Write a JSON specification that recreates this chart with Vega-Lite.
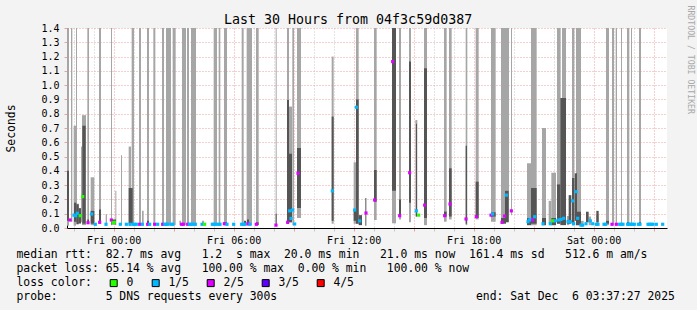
{
  "$schema": "https://vega.github.io/schema/vega-lite/v6.json",
  "width": 600,
  "height": 200,
  "autosize": {"type": "none"},
  "padding": {"left": 67, "top": 28, "right": 30, "bottom": 82},
  "background": "#f3f3f3",
  "title": {
    "text": "Last 30 Hours from 04f3c59d0387",
    "anchor": "start",
    "frame": "group",
    "dx": 157,
    "dy": 36,
    "baseline": "alphabetic",
    "offset": 4,
    "font": "DejaVu Sans Mono",
    "fontSize": 13.3,
    "fontWeight": "normal",
    "color": "#000000"
  },
  "datasets": {
    "light": [
      {"t":"2025-12-04T21:40","t2":"2025-12-04T21:46","lo":0.016,"hi":1.4},
      {"t":"2025-12-04T21:52","t2":"2025-12-04T21:56","lo":0.044,"hi":1.4},
      {"t":"2025-12-04T22:00","t2":"2025-12-04T22:07","lo":0.016,"hi":0.716},
      {"t":"2025-12-04T22:07","t2":"2025-12-04T22:10","lo":0.04,"hi":1.4},
      {"t":"2025-12-04T22:10","t2":"2025-12-04T22:16","lo":0.03,"hi":0.17},
      {"t":"2025-12-04T22:16","t2":"2025-12-04T22:22","lo":0.03,"hi":0.14},
      {"t":"2025-12-04T22:22","t2":"2025-12-04T22:25","lo":0.04,"hi":0.57},
      {"t":"2025-12-04T22:25","t2":"2025-12-04T22:37","lo":0.02,"hi":0.79},
      {"t":"2025-12-04T22:41","t2":"2025-12-04T22:46","lo":0.03,"hi":1.4},
      {"t":"2025-12-04T22:51","t2":"2025-12-04T23:02","lo":0.02,"hi":0.355},
      {"t":"2025-12-04T23:16","t2":"2025-12-04T23:22","lo":0.03,"hi":1.4},
      {"t":"2025-12-04T23:36","t2":"2025-12-04T23:40","lo":0.02,"hi":0.096},
      {"t":"2025-12-04T23:52","t2":"2025-12-04T23:55","lo":0.02,"hi":1.4},
      {"t":"2025-12-05T00:05","t2":"2025-12-05T00:08","lo":0.02,"hi":0.26},
      {"t":"2025-12-05T00:22","t2":"2025-12-05T00:25","lo":0.02,"hi":0.51},
      {"t":"2025-12-05T00:45","t2":"2025-12-05T00:52","lo":0.016,"hi":0.57},
      {"t":"2025-12-05T00:54","t2":"2025-12-05T01:01","lo":0.02,"hi":1.4},
      {"t":"2025-12-05T01:16","t2":"2025-12-05T01:22","lo":0.02,"hi":1.4},
      {"t":"2025-12-05T01:25","t2":"2025-12-05T01:30","lo":0.02,"hi":0.12},
      {"t":"2025-12-05T01:40","t2":"2025-12-05T01:46","lo":0.02,"hi":1.4},
      {"t":"2025-12-05T01:59","t2":"2025-12-05T02:05","lo":0.02,"hi":1.4},
      {"t":"2025-12-05T02:25","t2":"2025-12-05T02:31","lo":0.02,"hi":1.4},
      {"t":"2025-12-05T02:37","t2":"2025-12-05T02:52","lo":0.02,"hi":1.4},
      {"t":"2025-12-05T02:57","t2":"2025-12-05T03:06","lo":0.02,"hi":1.4},
      {"t":"2025-12-05T03:17","t2":"2025-12-05T03:22","lo":0.02,"hi":0.05},
      {"t":"2025-12-05T03:25","t2":"2025-12-05T03:37","lo":0.02,"hi":1.4},
      {"t":"2025-12-05T03:40","t2":"2025-12-05T03:46","lo":0.02,"hi":1.4},
      {"t":"2025-12-05T03:52","t2":"2025-12-05T04:07","lo":0.02,"hi":1.4},
      {"t":"2025-12-05T04:25","t2":"2025-12-05T04:31","lo":0.02,"hi":0.05},
      {"t":"2025-12-05T05:00","t2":"2025-12-05T05:10","lo":0.02,"hi":1.4},
      {"t":"2025-12-05T05:15","t2":"2025-12-05T05:20","lo":0.02,"hi":1.4},
      {"t":"2025-12-05T05:31","t2":"2025-12-05T05:40","lo":0.02,"hi":1.4},
      {"t":"2025-12-05T06:24","t2":"2025-12-05T06:30","lo":0.02,"hi":1.4},
      {"t":"2025-12-05T06:39","t2":"2025-12-05T06:55","lo":0.02,"hi":1.4},
      {"t":"2025-12-05T07:07","t2":"2025-12-05T07:15","lo":0.02,"hi":1.4},
      {"t":"2025-12-05T08:06","t2":"2025-12-05T08:09","lo":0.02,"hi":1.4},
      {"t":"2025-12-05T08:40","t2":"2025-12-05T08:46","lo":0.03,"hi":1.4},
      {"t":"2025-12-05T08:46","t2":"2025-12-05T08:55","lo":0.04,"hi":0.85},
      {"t":"2025-12-05T08:56","t2":"2025-12-05T09:01","lo":0.02,"hi":1.4},
      {"t":"2025-12-05T09:10","t2":"2025-12-05T09:22","lo":0.07,"hi":1.4},
      {"t":"2025-12-05T10:54","t2":"2025-12-05T11:00","lo":0.03,"hi":1.2},
      {"t":"2025-12-05T12:00","t2":"2025-12-05T12:07","lo":0.03,"hi":0.46},
      {"t":"2025-12-05T12:07","t2":"2025-12-05T12:15","lo":0.03,"hi":1.4},
      {"t":"2025-12-05T13:01","t2":"2025-12-05T13:09","lo":0.056,"hi":1.4},
      {"t":"2025-12-05T13:55","t2":"2025-12-05T14:07","lo":0.033,"hi":0.26},
      {"t":"2025-12-05T14:16","t2":"2025-12-05T14:22","lo":0.06,"hi":1.4},
      {"t":"2025-12-05T14:46","t2":"2025-12-05T14:52","lo":0.04,"hi":1.4},
      {"t":"2025-12-05T15:05","t2":"2025-12-05T15:11","lo":0.08,"hi":0.756},
      {"t":"2025-12-05T15:31","t2":"2025-12-05T15:40","lo":0.02,"hi":1.4},
      {"t":"2025-12-05T16:31","t2":"2025-12-05T16:39","lo":0.044,"hi":1.4},
      {"t":"2025-12-05T16:46","t2":"2025-12-05T16:54","lo":0.06,"hi":1.4},
      {"t":"2025-12-05T17:36","t2":"2025-12-05T17:41","lo":0.02,"hi":1.4},
      {"t":"2025-12-05T18:06","t2":"2025-12-05T18:15","lo":0.06,"hi":1.4},
      {"t":"2025-12-05T18:52","t2":"2025-12-05T19:06","lo":0.044,"hi":1.4},
      {"t":"2025-12-05T19:22","t2":"2025-12-05T19:46","lo":0.044,"hi":1.4},
      {"t":"2025-12-05T19:52","t2":"2025-12-05T19:55","lo":0.09,"hi":1.4},
      {"t":"2025-12-05T20:40","t2":"2025-12-05T20:52","lo":0.02,"hi":0.453},
      {"t":"2025-12-05T20:52","t2":"2025-12-05T21:09","lo":0.02,"hi":1.4},
      {"t":"2025-12-05T21:25","t2":"2025-12-05T21:37","lo":0.02,"hi":0.7},
      {"t":"2025-12-05T21:45","t2":"2025-12-05T21:53","lo":0.03,"hi":0.19},
      {"t":"2025-12-05T21:53","t2":"2025-12-05T22:07","lo":0.02,"hi":0.387},
      {"t":"2025-12-05T22:10","t2":"2025-12-05T22:21","lo":0.03,"hi":1.4},
      {"t":"2025-12-05T22:25","t2":"2025-12-05T22:37","lo":0.03,"hi":1.4},
      {"t":"2025-12-05T22:40","t2":"2025-12-05T22:47","lo":0.02,"hi":0.084},
      {"t":"2025-12-05T22:55","t2":"2025-12-05T23:02","lo":0.02,"hi":1.4},
      {"t":"2025-12-05T23:07","t2":"2025-12-05T23:22","lo":0.02,"hi":1.4},
      {"t":"2025-12-05T23:22","t2":"2025-12-05T23:30","lo":0.02,"hi":0.05},
      {"t":"2025-12-05T23:45","t2":"2025-12-05T23:52","lo":0.02,"hi":0.08},
      {"t":"2025-12-06T00:08","t2":"2025-12-06T00:15","lo":0.03,"hi":0.09},
      {"t":"2025-12-06T00:37","t2":"2025-12-06T00:46","lo":0.02,"hi":1.4},
      {"t":"2025-12-06T00:55","t2":"2025-12-06T01:01","lo":0.02,"hi":1.4},
      {"t":"2025-12-06T01:06","t2":"2025-12-06T01:10","lo":0.02,"hi":1.4},
      {"t":"2025-12-06T01:22","t2":"2025-12-06T01:25","lo":0.02,"hi":1.4},
      {"t":"2025-12-06T01:40","t2":"2025-12-06T01:47","lo":0.02,"hi":1.4},
      {"t":"2025-12-06T01:52","t2":"2025-12-06T01:55","lo":0.02,"hi":1.4},
      {"t":"2025-12-06T02:16","t2":"2025-12-06T02:22","lo":0.02,"hi":1.4}
    ],
    "dark": [
      {"t":"2025-12-04T21:40","t2":"2025-12-04T21:46","lo":0.05,"hi":0.4},
      {"t":"2025-12-04T22:01","t2":"2025-12-04T22:08","lo":0.044,"hi":0.177},
      {"t":"2025-12-04T22:08","t2":"2025-12-04T22:15","lo":0.026,"hi":0.166},
      {"t":"2025-12-04T22:15","t2":"2025-12-04T22:22","lo":0.033,"hi":0.138},
      {"t":"2025-12-04T22:26","t2":"2025-12-04T22:36","lo":0.03,"hi":0.716},
      {"t":"2025-12-04T22:41","t2":"2025-12-04T22:46","lo":0.03,"hi":0.06},
      {"t":"2025-12-04T22:51","t2":"2025-12-04T23:02","lo":0.03,"hi":0.12},
      {"t":"2025-12-04T23:16","t2":"2025-12-04T23:22","lo":0.033,"hi":0.13},
      {"t":"2025-12-04T23:52","t2":"2025-12-05T00:07","lo":0.025,"hi":0.06},
      {"t":"2025-12-05T00:45","t2":"2025-12-05T00:57","lo":0.03,"hi":0.28},
      {"t":"2025-12-05T01:40","t2":"2025-12-05T01:46","lo":0.02,"hi":0.05},
      {"t":"2025-12-05T05:31","t2":"2025-12-05T05:40","lo":0.02,"hi":0.04},
      {"t":"2025-12-05T06:31","t2":"2025-12-05T06:37","lo":0.02,"hi":0.05},
      {"t":"2025-12-05T06:40","t2":"2025-12-05T06:46","lo":0.02,"hi":0.06},
      {"t":"2025-12-05T07:07","t2":"2025-12-05T07:15","lo":0.02,"hi":0.04},
      {"t":"2025-12-05T08:06","t2":"2025-12-05T08:09","lo":0.02,"hi":0.1},
      {"t":"2025-12-05T08:40","t2":"2025-12-05T08:46","lo":0.03,"hi":0.896},
      {"t":"2025-12-05T08:46","t2":"2025-12-05T08:55","lo":0.04,"hi":0.52},
      {"t":"2025-12-05T09:10","t2":"2025-12-05T09:22","lo":0.14,"hi":0.56},
      {"t":"2025-12-05T10:54","t2":"2025-12-05T11:00","lo":0.05,"hi":0.78},
      {"t":"2025-12-05T12:00","t2":"2025-12-05T12:07","lo":0.05,"hi":0.126},
      {"t":"2025-12-05T12:07","t2":"2025-12-05T12:15","lo":0.03,"hi":0.9},
      {"t":"2025-12-05T12:15","t2":"2025-12-05T12:25","lo":0.02,"hi":0.09},
      {"t":"2025-12-05T12:35","t2":"2025-12-05T12:38","lo":0.016,"hi":0.21},
      {"t":"2025-12-05T13:01","t2":"2025-12-05T13:09","lo":0.184,"hi":0.406},
      {"t":"2025-12-05T13:55","t2":"2025-12-05T14:07","lo":0.26,"hi":1.4},
      {"t":"2025-12-05T14:16","t2":"2025-12-05T14:22","lo":0.09,"hi":0.2},
      {"t":"2025-12-05T14:46","t2":"2025-12-05T14:52","lo":0.177,"hi":1.165},
      {"t":"2025-12-05T15:07","t2":"2025-12-05T15:10","lo":0.08,"hi":0.73},
      {"t":"2025-12-05T15:31","t2":"2025-12-05T15:40","lo":0.07,"hi":1.118},
      {"t":"2025-12-05T16:31","t2":"2025-12-05T16:39","lo":0.08,"hi":0.115},
      {"t":"2025-12-05T16:46","t2":"2025-12-05T16:54","lo":0.08,"hi":0.418},
      {"t":"2025-12-05T17:36","t2":"2025-12-05T17:40","lo":0.03,"hi":0.576},
      {"t":"2025-12-05T18:06","t2":"2025-12-05T18:15","lo":0.07,"hi":0.324},
      {"t":"2025-12-05T18:52","t2":"2025-12-05T19:06","lo":0.08,"hi":0.11},
      {"t":"2025-12-05T19:22","t2":"2025-12-05T19:37","lo":0.03,"hi":0.07},
      {"t":"2025-12-05T19:34","t2":"2025-12-05T19:45","lo":0.04,"hi":0.26},
      {"t":"2025-12-05T20:40","t2":"2025-12-05T20:52","lo":0.02,"hi":0.07},
      {"t":"2025-12-05T20:52","t2":"2025-12-05T21:09","lo":0.03,"hi":0.28},
      {"t":"2025-12-05T21:25","t2":"2025-12-05T21:37","lo":0.02,"hi":0.07},
      {"t":"2025-12-05T21:53","t2":"2025-12-05T22:07","lo":0.02,"hi":0.07},
      {"t":"2025-12-05T22:10","t2":"2025-12-05T22:20","lo":0.03,"hi":0.305},
      {"t":"2025-12-05T22:20","t2":"2025-12-05T22:37","lo":0.02,"hi":0.91},
      {"t":"2025-12-05T22:40","t2":"2025-12-05T22:47","lo":0.03,"hi":0.056},
      {"t":"2025-12-05T22:45","t2":"2025-12-05T22:53","lo":0.03,"hi":0.23},
      {"t":"2025-12-05T22:55","t2":"2025-12-05T23:02","lo":0.02,"hi":0.35},
      {"t":"2025-12-05T23:07","t2":"2025-12-05T23:22","lo":0.02,"hi":0.114},
      {"t":"2025-12-05T23:03","t2":"2025-12-05T23:10","lo":0.05,"hi":0.383},
      {"t":"2025-12-05T23:37","t2":"2025-12-05T23:45","lo":0.04,"hi":0.114},
      {"t":"2025-12-06T00:08","t2":"2025-12-06T00:15","lo":0.04,"hi":0.12},
      {"t":"2025-12-06T00:37","t2":"2025-12-06T00:46","lo":0.03,"hi":0.05},
      {"t":"2025-12-06T01:40","t2":"2025-12-06T01:47","lo":0.02,"hi":0.04},
      {"t":"2025-12-06T02:16","t2":"2025-12-06T02:22","lo":0.02,"hi":0.04}
    ],
    "med": [
      {"t":"2025-12-04T21:49","v":0.056,"loss":"2/5"},
      {"t":"2025-12-04T22:01","v":0.09,"loss":"1/5"},
      {"t":"2025-12-04T22:06","v":0.086,"loss":"1/5"},
      {"t":"2025-12-04T22:11","v":0.103,"loss":"1/5"},
      {"t":"2025-12-04T22:20","v":0.086,"loss":"0"},
      {"t":"2025-12-04T22:27","v":0.22,"loss":"0"},
      {"t":"2025-12-04T22:43","v":0.037,"loss":"2/5"},
      {"t":"2025-12-04T22:54","v":0.098,"loss":"1/5"},
      {"t":"2025-12-04T23:05","v":0.026,"loss":"1/5"},
      {"t":"2025-12-04T23:18","v":0.04,"loss":"2/5"},
      {"t":"2025-12-04T23:37","v":0.026,"loss":"1/5"},
      {"t":"2025-12-04T23:53","v":0.056,"loss":"2/5"},
      {"t":"2025-12-04T23:58","v":0.037,"loss":"0"},
      {"t":"2025-12-05T00:02","v":0.04,"loss":"0"},
      {"t":"2025-12-05T00:20","v":0.026,"loss":"1/5"},
      {"t":"2025-12-05T00:38","v":0.026,"loss":"1/5"},
      {"t":"2025-12-05T00:49","v":0.026,"loss":"1/5"},
      {"t":"2025-12-05T00:58","v":0.026,"loss":"1/5"},
      {"t":"2025-12-05T01:03","v":0.026,"loss":"1/5"},
      {"t":"2025-12-05T01:08","v":0.026,"loss":"1/5"},
      {"t":"2025-12-05T01:18","v":0.026,"loss":"2/5"},
      {"t":"2025-12-05T01:26","v":0.026,"loss":"1/5"},
      {"t":"2025-12-05T01:42","v":0.026,"loss":"2/5"},
      {"t":"2025-12-05T01:48","v":0.026,"loss":"1/5"},
      {"t":"2025-12-05T02:03","v":0.026,"loss":"2/5"},
      {"t":"2025-12-05T02:12","v":0.026,"loss":"1/5"},
      {"t":"2025-12-05T02:27","v":0.026,"loss":"2/5"},
      {"t":"2025-12-05T02:33","v":0.026,"loss":"1/5"},
      {"t":"2025-12-05T02:38","v":0.026,"loss":"1/5"},
      {"t":"2025-12-05T02:43","v":0.026,"loss":"1/5"},
      {"t":"2025-12-05T02:53","v":0.026,"loss":"1/5"},
      {"t":"2025-12-05T02:58","v":0.026,"loss":"1/5"},
      {"t":"2025-12-05T03:24","v":0.026,"loss":"2/5"},
      {"t":"2025-12-05T03:29","v":0.026,"loss":"2/5"},
      {"t":"2025-12-05T03:42","v":0.026,"loss":"2/5"},
      {"t":"2025-12-05T03:47","v":0.026,"loss":"1/5"},
      {"t":"2025-12-05T03:52","v":0.026,"loss":"1/5"},
      {"t":"2025-12-05T03:57","v":0.026,"loss":"1/5"},
      {"t":"2025-12-05T04:05","v":0.026,"loss":"1/5"},
      {"t":"2025-12-05T04:25","v":0.026,"loss":"1/5"},
      {"t":"2025-12-05T04:33","v":0.026,"loss":"0"},
      {"t":"2025-12-05T04:56","v":0.026,"loss":"1/5"},
      {"t":"2025-12-05T05:01","v":0.026,"loss":"1/5"},
      {"t":"2025-12-05T05:06","v":0.026,"loss":"1/5"},
      {"t":"2025-12-05T05:14","v":0.026,"loss":"1/5"},
      {"t":"2025-12-05T05:19","v":0.026,"loss":"1/5"},
      {"t":"2025-12-05T05:32","v":0.03,"loss":"2/5"},
      {"t":"2025-12-05T05:40","v":0.026,"loss":"1/5"},
      {"t":"2025-12-05T06:00","v":0.026,"loss":"1/5"},
      {"t":"2025-12-05T06:24","v":0.026,"loss":"1/5"},
      {"t":"2025-12-05T06:29","v":0.026,"loss":"1/5"},
      {"t":"2025-12-05T06:34","v":0.026,"loss":"1/5"},
      {"t":"2025-12-05T06:43","v":0.03,"loss":"2/5"},
      {"t":"2025-12-05T06:49","v":0.026,"loss":"1/5"},
      {"t":"2025-12-05T07:08","v":0.026,"loss":"2/5"},
      {"t":"2025-12-05T08:07","v":0.02,"loss":"2/5"},
      {"t":"2025-12-05T08:42","v":0.04,"loss":"2/5"},
      {"t":"2025-12-05T08:48","v":0.12,"loss":"1/5"},
      {"t":"2025-12-05T08:52","v":0.067,"loss":"1/5"},
      {"t":"2025-12-05T08:57","v":0.126,"loss":"1/5"},
      {"t":"2025-12-05T09:03","v":0.028,"loss":"1/5"},
      {"t":"2025-12-05T09:13","v":0.383,"loss":"2/5"},
      {"t":"2025-12-05T10:56","v":0.26,"loss":"1/5"},
      {"t":"2025-12-05T12:03","v":0.126,"loss":"1/5"},
      {"t":"2025-12-05T12:08","v":0.845,"loss":"1/5"},
      {"t":"2025-12-05T12:18","v":0.05,"loss":"1/5"},
      {"t":"2025-12-05T12:37","v":0.105,"loss":"2/5"},
      {"t":"2025-12-05T13:03","v":0.196,"loss":"2/5"},
      {"t":"2025-12-05T13:57","v":1.165,"loss":"2/5"},
      {"t":"2025-12-05T14:18","v":0.086,"loss":"2/5"},
      {"t":"2025-12-05T14:48","v":0.387,"loss":"2/5"},
      {"t":"2025-12-05T15:08","v":0.12,"loss":"1/5"},
      {"t":"2025-12-05T15:15","v":0.09,"loss":"0"},
      {"t":"2025-12-05T15:33","v":0.16,"loss":"2/5"},
      {"t":"2025-12-05T16:33","v":0.086,"loss":"2/5"},
      {"t":"2025-12-05T16:49","v":0.168,"loss":"2/5"},
      {"t":"2025-12-05T17:37","v":0.063,"loss":"2/5"},
      {"t":"2025-12-05T18:08","v":0.079,"loss":"2/5"},
      {"t":"2025-12-05T18:52","v":0.09,"loss":"2/5"},
      {"t":"2025-12-05T18:57","v":0.098,"loss":"1/5"},
      {"t":"2025-12-05T19:25","v":0.04,"loss":"2/5"},
      {"t":"2025-12-05T19:33","v":0.084,"loss":"2/5"},
      {"t":"2025-12-05T19:38","v":0.23,"loss":"1/5"},
      {"t":"2025-12-05T19:53","v":0.12,"loss":"2/5"},
      {"t":"2025-12-05T20:43","v":0.044,"loss":"1/5"},
      {"t":"2025-12-05T20:47","v":0.056,"loss":"1/5"},
      {"t":"2025-12-05T20:51","v":0.06,"loss":"1/5"},
      {"t":"2025-12-05T20:57","v":0.056,"loss":"2/5"},
      {"t":"2025-12-05T21:03","v":0.079,"loss":"1/5"},
      {"t":"2025-12-05T21:28","v":0.03,"loss":"1/5"},
      {"t":"2025-12-05T21:50","v":0.03,"loss":"1/5"},
      {"t":"2025-12-05T21:57","v":0.05,"loss":"0"},
      {"t":"2025-12-05T22:05","v":0.05,"loss":"1/5"},
      {"t":"2025-12-05T22:15","v":0.056,"loss":"1/5"},
      {"t":"2025-12-05T22:22","v":0.06,"loss":"1/5"},
      {"t":"2025-12-05T22:30","v":0.068,"loss":"1/5"},
      {"t":"2025-12-05T22:43","v":0.044,"loss":"1/5"},
      {"t":"2025-12-05T22:50","v":0.044,"loss":"1/5"},
      {"t":"2025-12-05T22:57","v":0.19,"loss":"1/5"},
      {"t":"2025-12-05T23:00","v":0.03,"loss":"1/5"},
      {"t":"2025-12-05T23:07","v":0.254,"loss":"1/5"},
      {"t":"2025-12-05T23:12","v":0.068,"loss":"1/5"},
      {"t":"2025-12-05T23:22","v":0.02,"loss":"1/5"},
      {"t":"2025-12-05T23:27","v":0.02,"loss":"1/5"},
      {"t":"2025-12-05T23:37","v":0.03,"loss":"1/5"},
      {"t":"2025-12-05T23:50","v":0.05,"loss":"1/5"},
      {"t":"2025-12-05T23:57","v":0.03,"loss":"1/5"},
      {"t":"2025-12-06T00:08","v":0.026,"loss":"1/5"},
      {"t":"2025-12-06T00:13","v":0.026,"loss":"1/5"},
      {"t":"2025-12-06T00:31","v":0.026,"loss":"1/5"},
      {"t":"2025-12-06T00:36","v":0.026,"loss":"1/5"},
      {"t":"2025-12-06T00:55","v":0.026,"loss":"2/5"},
      {"t":"2025-12-06T01:08","v":0.026,"loss":"2/5"},
      {"t":"2025-12-06T01:18","v":0.026,"loss":"1/5"},
      {"t":"2025-12-06T01:23","v":0.026,"loss":"1/5"},
      {"t":"2025-12-06T01:28","v":0.026,"loss":"1/5"},
      {"t":"2025-12-06T01:42","v":0.026,"loss":"1/5"},
      {"t":"2025-12-06T01:47","v":0.026,"loss":"1/5"},
      {"t":"2025-12-06T01:52","v":0.026,"loss":"1/5"},
      {"t":"2025-12-06T01:57","v":0.026,"loss":"1/5"},
      {"t":"2025-12-06T02:02","v":0.026,"loss":"1/5"},
      {"t":"2025-12-06T02:14","v":0.026,"loss":"1/5"},
      {"t":"2025-12-06T02:19","v":0.026,"loss":"1/5"},
      {"t":"2025-12-06T02:43","v":0.026,"loss":"1/5"},
      {"t":"2025-12-06T02:48","v":0.026,"loss":"1/5"},
      {"t":"2025-12-06T02:53","v":0.026,"loss":"1/5"},
      {"t":"2025-12-06T02:58","v":0.026,"loss":"1/5"},
      {"t":"2025-12-06T03:08","v":0.026,"loss":"1/5"},
      {"t":"2025-12-06T03:27","v":0.026,"loss":"1/5"}
    ]
  },
  "encoding": {
    "x": {
      "field": "t",
      "type": "temporal",
      "scale": {
        "domain": [
          {"year": 2025, "month": 12, "date": 4, "hours": 21, "minutes": 40},
          {"year": 2025, "month": 12, "date": 6, "hours": 3, "minutes": 40}
        ]
      },
      "axis": {
        "orient": "bottom",
        "tickCount": 30,
        "labelExpr": "hours(datum.value) % 6 === 0 ? timeFormat(datum.value, '%a %H:%M') : ''",
        "labelOverlap": false,
        "labelFlush": false,
        "labelFont": "DejaVu Sans Mono",
        "labelFontSize": 10,
        "labelColor": "#000000",
        "labelPadding": 4,
        "grid": true,
        "gridColor": {
          "condition": {"test": {"field": "value", "timeUnit": "hours", "oneOf": [0, 3, 6, 9, 12, 15, 18, 21]}, "value": "#e8a0a0"},
          "value": "#c8c8c8"
        },
        "gridDash": [1, 2],
        "gridOpacity": 1,
        "ticks": true,
        "tickSize": 3,
        "tickColor": {
          "condition": {"test": {"field": "value", "timeUnit": "hours", "oneOf": [0, 3, 6, 9, 12, 15, 18, 21]}, "value": "#e8a0a0"},
          "value": "#c8c8c8"
        },
        "domainColor": "#000000",
        "domainWidth": 1,
        "title": [
          "median rtt:\u00a0\u00a082.7 ms avg\u00a0\u00a0\u00a01.2\u00a0\u00a0s max\u00a0\u00a020.0 ms min\u00a0\u00a0\u00a021.0 ms now\u00a0\u00a0161.4 ms sd\u00a0\u00a0\u00a0512.6 m am/s",
          "packet loss: 65.14 % avg\u00a0\u00a0\u00a0100.00 % max\u00a0\u00a00.00 % min\u00a0\u00a0\u00a0100.00 % now",
          "loss color:",
          "probe:\u00a0\u00a0\u00a0\u00a0\u00a0\u00a0\u00a05 DNS requests every 300s\u00a0\u00a0\u00a0\u00a0\u00a0\u00a0\u00a0\u00a0\u00a0\u00a0\u00a0\u00a0\u00a0\u00a0\u00a0\u00a0\u00a0\u00a0\u00a0\u00a0\u00a0\u00a0\u00a0\u00a0\u00a0\u00a0\u00a0\u00a0\u00a0end: Sat Dec\u00a0\u00a06 03:37:27 2025"
        ],
        "titleX": -51,
        "titleY": 29,
        "titleAlign": "left",
        "titleAnchor": "start",
        "titleBaseline": "alphabetic",
        "titleFont": "DejaVu Sans Mono",
        "titleFontSize": 11.4,
        "titleFontWeight": "normal",
        "titleColor": "#000000",
        "titleLineHeight": 14
      }
    }
  },
  "layer": [
    {
      "data": {"name": "light"},
      "mark": {"type": "rect", "color": "#a6a6a6", "clip": true},
      "encoding": {
        "x2": {"field": "t2"},
        "y": {
          "field": "lo",
          "type": "quantitative",
          "scale": {"domain": [0, 1.4], "nice": false},
          "axis": {
            "orient": "left",
            "title": "Seconds",
            "values": [0, 0.1, 0.2, 0.3, 0.4, 0.5, 0.6, 0.7, 0.8, 0.9, 1.0, 1.1, 1.2, 1.3, 1.4],
            "format": ".1f",
            "labelFont": "DejaVu Sans Mono",
            "labelFontSize": 10,
            "labelColor": "#000000",
            "labelPadding": 5,
            "labelFlush": false,
            "tickSize": 3,
            "tickColor": "#e8a0a0",
            "grid": true,
            "gridColor": "#e8a0a0",
            "gridDash": [1, 2],
            "gridOpacity": 1,
            "domainColor": "#000000",
            "titleX": -56,
            "titleY": 100,
            "titleAngle": -90,
            "titleAlign": "center",
            "titleBaseline": "middle",
            "titleFont": "DejaVu Sans Mono",
            "titleFontSize": 11.4,
            "titleFontWeight": "normal",
            "titleColor": "#000000"
          }
        },
        "y2": {"field": "hi"}
      }
    },
    {
      "data": {"name": "dark"},
      "mark": {"type": "rect", "color": "#555555", "clip": true},
      "encoding": {
        "x2": {"field": "t2"},
        "y": {
          "field": "lo",
          "type": "quantitative",
          "scale": {"domain": [0, 1.4], "nice": false},
          "axis": {
            "orient": "right",
            "title": "RRDTOOL / TOBI OETIKER",
            "labels": false,
            "ticks": false,
            "domain": false,
            "grid": false,
            "titleAngle": 90,
            "titleX": 22,
            "titleY": -23,
            "titleAlign": "left",
            "titleBaseline": "middle",
            "titleFont": "DejaVu Sans Mono",
            "titleFontSize": 8.2,
            "titleFontWeight": "normal",
            "titleColor": "#a8a8a8"
          }
        },
        "y2": {"field": "hi"}
      }
    },
    {
      "data": {"name": "med"},
      "mark": {"type": "point", "shape": "square", "filled": true, "size": 10, "opacity": 1, "clip": true},
      "encoding": {
        "y": {"field": "v", "type": "quantitative", "scale": {"domain": [0, 1.4], "nice": false}, "axis": null},
        "color": {
          "field": "loss",
          "type": "nominal",
          "scale": {
            "domain": ["0", "1/5", "2/5", "3/5", "4/5"],
            "range": ["#26ff00", "#00b8ff", "#dd00ff", "#5e00ff", "#ff0000"]
          },
          "legend": {
            "orient": "none",
            "legendX": 41,
            "legendY": 249,
            "direction": "horizontal",
            "title": null,
            "symbolType": "square",
            "symbolSize": 49,
            "symbolStrokeColor": "#000000",
            "symbolStrokeWidth": 1,
            "symbolOpacity": 1,
            "labelFont": "DejaVu Sans Mono",
            "labelFontSize": 11.4,
            "labelColor": "#000000",
            "labelOffset": 7,
            "columnPadding": 16,
            "padding": 0
          }
        }
      }
    }
  ],
  "resolve": {"axis": {"y": "independent"}},
  "config": {
    "font": "DejaVu Sans Mono",
    "view": {"fill": "#ffffff", "stroke": null}
  }
}
